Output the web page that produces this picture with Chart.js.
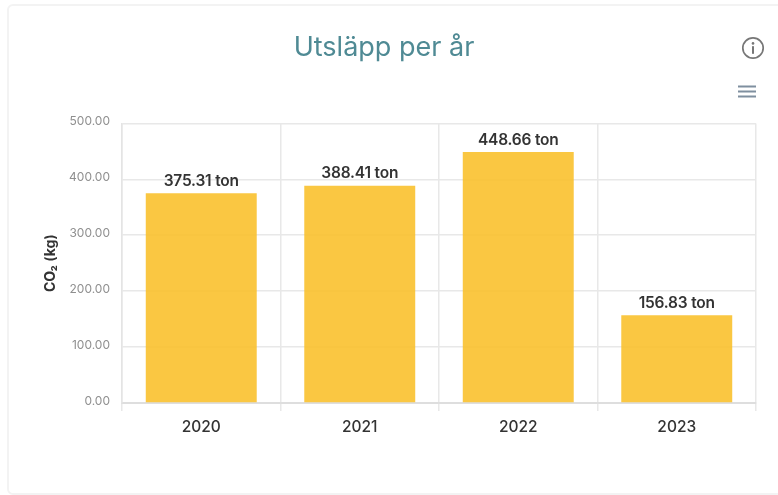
<!DOCTYPE html>
<html>
<head>
<meta charset="utf-8">
<script src="https://cdn.jsdelivr.net/npm/chart.js@4/dist/chart.umd.js"></script>
<style>
  html, body { margin: 0; padding: 0; background: #fff; overflow: hidden; }
  #wrap { position: relative; width: 778px; height: 495px; filter: blur(0.35px); }
  #card { position: absolute; left: 7px; top: 4px; width: 790px; height: 491px; border: 2px solid #f3f3f3; border-radius: 6px; box-sizing: border-box; }
  canvas { position: absolute; left: 0; top: 0; }
  #info { position: absolute; left: 741px; top: 36px; }
  #menu { position: absolute; left: 737px; top: 85px; }
</style>
</head>
<body>
<div id="wrap">
  <div id="card"></div>
  <canvas id="chart" width="778" height="495"></canvas>
  <svg id="info" width="24" height="24" viewBox="0 0 24 24">
    <circle cx="12" cy="12" r="10.2" fill="none" stroke="#777" stroke-width="1.7"/>
    <circle cx="12" cy="7.4" r="1.3" fill="#777"/>
    <rect x="11" y="10.2" width="2" height="7.6" fill="#777"/>
  </svg>
  <svg id="menu" width="20" height="14" viewBox="0 0 20 14">
    <rect x="1" y="0.5" width="18" height="2" fill="#7f8f9f"/>
    <rect x="1" y="5.5" width="18" height="2" fill="#7f8f9f"/>
    <rect x="1" y="10.5" width="18" height="2" fill="#7f8f9f"/>
  </svg>
</div>
<script>
const years = ['2020', '2021', '2022', '2023'];
const emissions = [375.31, 388.41, 448.66, 156.83];
const yMax = 500;
const yStep = 100;

const fontName = 'Inter, "Noto Sans", sans-serif';

// value labels on top of the bars
const barLabels = {
  id: 'barLabels',
  afterDatasetsDraw(chart) {
    const ctx = chart.ctx;
    const meta = chart.getDatasetMeta(0);
    ctx.save();
    ctx.font = '600 15.5px ' + fontName;
    ctx.letterSpacing = '-0.2px';
    ctx.fillStyle = '#333';
    ctx.textAlign = 'center';
    ctx.textBaseline = 'middle';
    meta.data.forEach((bar, i) => {
      ctx.fillText(emissions[i].toFixed(2) + ' ton', bar.x, bar.y - 12);
    });
    ctx.restore();
  }
};

new Chart(document.getElementById('chart'), {
  type: 'bar',
  data: {
    labels: years,
    datasets: [{
      data: emissions,
      backgroundColor: 'rgba(250, 193, 45, 0.9)',
      barPercentage: 0.7,
      categoryPercentage: 1
    }]
  },
  plugins: [barLabels],
  options: {
    responsive: false,
    animation: false,
    layout: { padding: { left: 12, right: 22, bottom: 32 } },
    plugins: {
      legend: { display: false },
      tooltip: { enabled: false },
      title: {
        display: true,
        text: 'Utsläpp per år',
        color: '#4f8a94',
        font: { family: fontName, size: 27, weight: '400' },
        padding: { top: 32, bottom: 59 }
      }
    },
    scales: {
      x: {
        afterFit(scale) { scale.height = 60; },
        grid: { color: '#e8e8e8', lineWidth: 1.5, tickLength: 8 },
        border: { color: '#dedede', width: 2 },
        ticks: { color: '#333', padding: 7, font: { family: fontName, size: 15.5, weight: '500' } }
      },
      y: {
        min: 0,
        max: yMax,
        afterFit(scale) { scale.width = 110; },
        grid: { color: '#e8e8e8', lineWidth: 1.5, drawTicks: false },
        border: { color: '#e4e4e4', width: 1.5 },
        title: {
          display: true,
          text: 'CO₂ (kg)',
          color: '#333',
          font: { family: fontName, size: 14, weight: '700' },
          padding: { top: 30, bottom: 0 }
        },
        ticks: {
          stepSize: yStep,
          color: '#8f8f8f',
          padding: 12,
          labelOffset: -2,
          font: { family: fontName, size: 12 },
          callback: v => v.toFixed(2)
        }
      }
    }
  }
});
</script>
</body>
</html>
